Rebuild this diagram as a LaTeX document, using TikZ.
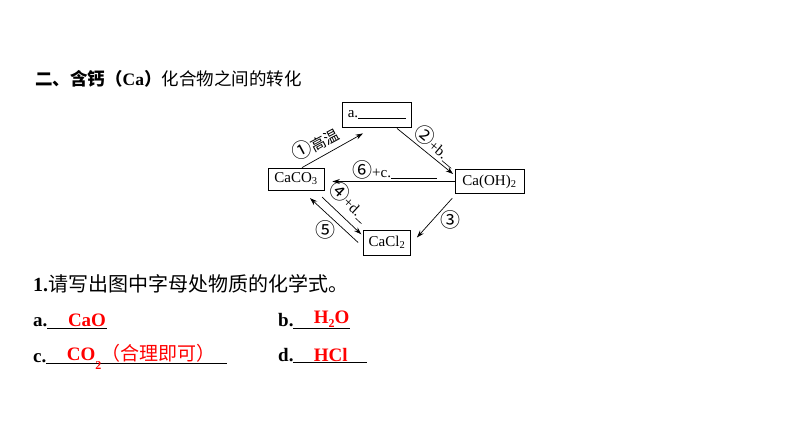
\documentclass[tikz,border=0pt]{standalone}
\usepackage{fontspec}
\setmainfont{Liberation Serif}
\newfontfamily\cjk{Noto Sans CJK SC}
\newcommand{\cnum}[1]{{\cjk\fontsize{20}{20}\selectfont #1}}
\usetikzlibrary{arrows.meta}
\tikzstyle{box} = [draw, line width=0.8pt, inner sep=0pt, minimum height=23pt, font=\fontsize{15}{15}\selectfont]
\tikzstyle{arr} = [line width=0.7pt, -{Stealth[length=7.5pt,width=5pt]}]

\begin{document}
\begin{tikzpicture}[x=1pt,y=-1pt,
		lbl/.style={inner sep=0pt, font=\fontsize{15}{15}\selectfont},
		txt/.style={inner sep=0pt, anchor=base west, font=\fontsize{19}{19}\selectfont},
		ans/.style={inner sep=0pt, anchor=base, red, font=\bfseries\fontsize{19}{19}\selectfont},
		uline/.style={line width=0.9pt}]
	\useasboundingbox[fill=white] (0,0) rectangle (794,447);
	\node[txt, font=\fontsize{17.5}{17.5}\selectfont] (title) at (35,85) {{\bfseries\cjk 二、含钙（}{\bfseries Ca}{\bfseries\cjk ）}{\cjk 化合物之间的转化}};
	\node (a)[box, minimum width=69pt, minimum height=25pt] at (377,114.5) {a.\rule[-1.5pt]{48pt}{0.6pt}};
	\node (caco3)[box, minimum width=56pt, minimum height=22pt] at (296,179) {CaCO\textsubscript{3}};
	\node (caoh2)[box, minimum width=69pt, minimum height=23.5pt] at (489.5,181.5) {Ca(OH)\textsubscript{2}};
	\node (cacl2)[box, minimum width=47pt, minimum height=25pt] at (387,242.5) {CaCl\textsubscript{2}};
	\draw[arr] ([xshift=6pt]caco3.north) -- ([xshift=-14pt,yshift=-6pt]a.south);
	\draw[arr] ([xshift=20pt,yshift=-1pt]a.south) -- ([xshift=-1.5pt,yshift=7.5pt]caoh2.west);
	\draw[arr] (caoh2.west) -- ([xshift=8pt,yshift=-2.5pt]caco3.east);
	\draw[arr] ([xshift=-2.3pt,yshift=-4.5pt]caoh2.south west) -- ([xshift=6pt,yshift=5pt]cacl2.east);
	\draw[arr] ([xshift=-2.3pt,yshift=-6.7pt]caco3.south east) -- ([xshift=-1.8pt,yshift=8.2pt]cacl2.west);
	\draw[arr] ([xshift=-5pt]cacl2.west) -- ([xshift=14pt,yshift=-7.7pt]caco3.south);
	\node (l1)[lbl, rotate=28] at (315,143) {\cnum{①}{\cjk 高温}};
	\node (l2)[lbl, rotate=-40] at (437,145) {\cnum{②}+b.\rule[-1.5pt]{12pt}{0.6pt}};
	\node (l6)[lbl, anchor=base west] at (352,177) {\cnum{⑥}+c.\rule[-1.5pt]{46pt}{0.6pt}};
	\node (l3)[lbl] at (450,220) {\cnum{③}};
	\node (l4)[lbl, rotate=-43] at (350,201) {\cnum{④}+d.\rule[-1.5pt]{8pt}{0.6pt}};
	\node (l5)[lbl] at (325,230) {\cnum{⑤}};
	\node[txt, font=\fontsize{20}{20}\selectfont] (q1) at (33,291) {{\bfseries 1.}{\cjk 请写出图中字母处物质的化学式。}};
	\node[txt] (la) at (33,326.7) {\bfseries a.};
	\node[txt] (lb) at (278,326.7) {\bfseries b.};
	\node[txt] (lc) at (33,362.5) {\bfseries c.};
	\node[txt] (ld) at (278,361.7) {\bfseries d.};
	\draw[uline] (47,328.3) -- (107.3,328.3);
	\draw[uline] (293.3,328.3) -- (350,328.3);
	\draw[uline] (46,363.5) -- (226.7,363.5);
	\draw[uline] (293.3,362.8) -- (366.7,362.8);
	\node[ans] (aa) at (87,326.7) {CaO};
	\node[ans] (ab) at (331.7,323.3) {H\raisebox{-4pt}{\fontsize{12}{12}\selectfont 2}O};
	\node[ans, anchor=base west] (ac) at (66.7,360) {CO\raisebox{-9pt}{\fontsize{12}{12}\selectfont 2}{\mdseries\cjk （合理即可）}};
	\node[ans] (ad) at (330.8,361.7) {HCl};
\end{tikzpicture}
\end{document}
